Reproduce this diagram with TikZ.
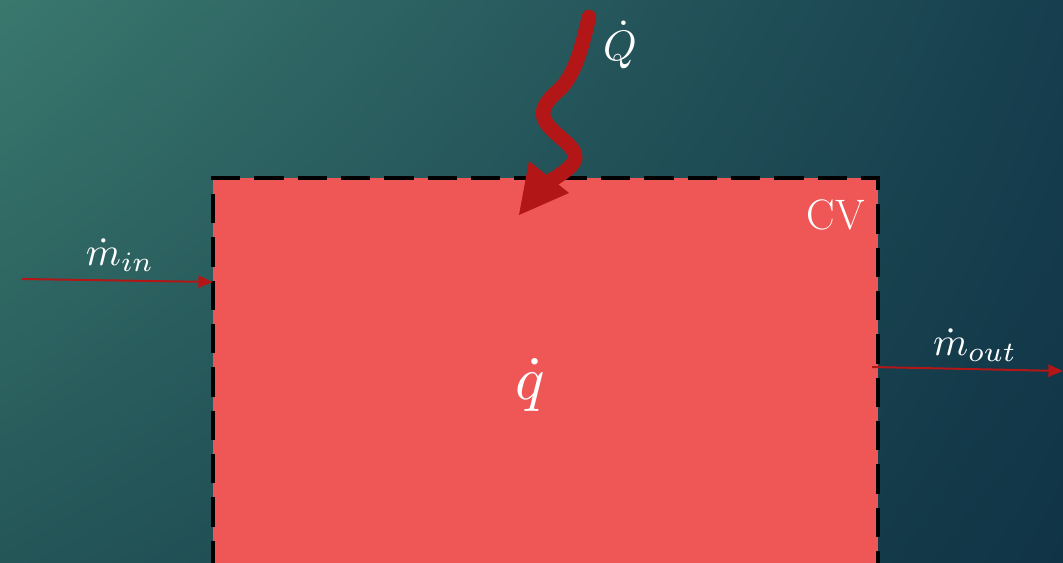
\documentclass[tikz,border=0pt]{standalone}
\usetikzlibrary{arrows.meta,shadings}
\definecolor{bgTL}{RGB}{58,120,110}
\definecolor{bgTR}{RGB}{22,62,78}
\definecolor{bgBL}{RGB}{36,86,88}
\definecolor{bgBR}{RGB}{16,52,70}
\definecolor{cvfill}{RGB}{239,87,87}
\definecolor{arrred}{RGB}{178,22,22}
\tikzset{
  flowarrow/.style={draw=arrred, line width=1.5pt, -{Triangle[length=11pt,width=9pt]}},
  cvborder/.style={draw=black, line width=2.6pt, dash pattern=on 22pt off 10.5pt},
  lbl/.style={text=white, inner sep=0pt},
}
\begin{document}
\begin{tikzpicture}[x=0.75pt,y=-0.75pt]
\useasboundingbox (0,0) rectangle (1063,563);
\clip (0,0) rectangle (1063,563);
\shade[upper left=bgTL, upper right=bgTR, lower left=bgBL, lower right=bgBR] (0,0) rectangle (1063,563);
% control volume
\coordinate (cvTL) at (213,178);
\coordinate (cvTR) at (878,178);
\coordinate (cvBL) at (213,570);
\coordinate (cvBR) at (878,570);
\fill[cvfill] (cvBL) rectangle (cvTR);
\draw[cvborder] (cvBL) -- (cvTL) -- (cvTR) -- (cvBR);
% labels
\node[lbl, font=\fontsize{32}{38}\selectfont] (cv) at (836,215) {CV};
\node[lbl] (q) at (530,385) {\scalebox{4.6}{$\dot{q}$}};
\node[lbl] (Q) at (620,45) {\scalebox{3.2}{$\dot{Q}$}};
\node[lbl] (min) at (120,255) {\scalebox{3.0}{$\dot{m}_{in}$}};
\node[lbl] (mout) at (975,345) {\scalebox{3.0}{$\dot{m}_{out}$}};
% mass flow arrows
\coordinate (inS) at (22,279);
\coordinate (inE) at (213,282);
\coordinate (outS) at (872,367);
\coordinate (outE) at (1063,371);
\draw[flowarrow] (inS) -- (inE);
\draw[flowarrow] (outS) -- (outE);
% heat arrow
\coordinate (hS) at (589,17);
\coordinate (hE) at (550,181);
\coordinate (hTip) at (519,215);
\coordinate (hW1) at (529,161);
\coordinate (hW2) at (569,193);
\draw[arrred, line width=11pt, line cap=round, line join=round]
  (hS) .. controls (582,47) and (575,75) .. (559,90)
       .. controls (533,112) and (543,122) .. (560,137)
       .. controls (580,154) and (584,161) .. (hE);
\fill[arrred] (hTip) -- (hW1) -- (hW2) -- cycle;
\end{tikzpicture}
\end{document}
